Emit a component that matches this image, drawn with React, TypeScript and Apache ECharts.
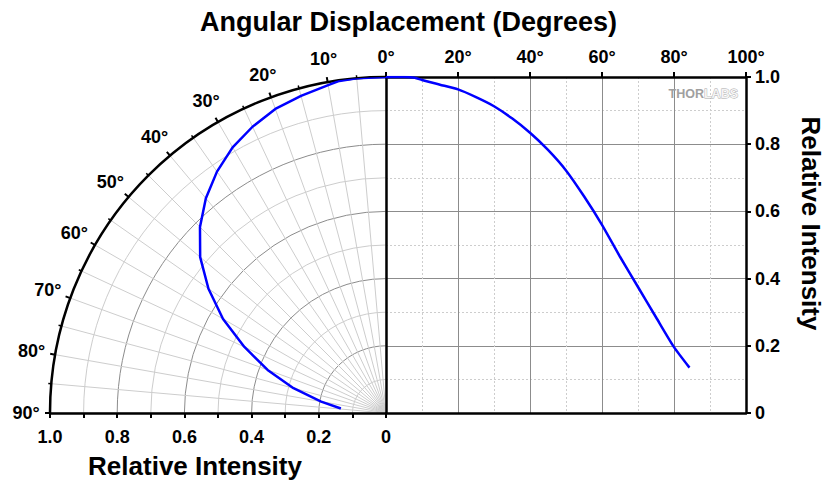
import React, { useEffect, useRef } from "react";
import * as echarts from "echarts";

// Angle (degrees) and relative intensity
const angles = [0, 5, 8, 10, 15, 20, 25, 30, 35, 40, 45, 50, 55, 60, 65, 70, 75, 80, 84.3];
const intensity = [1.0, 1.0, 0.998, 0.991, 0.977, 0.963, 0.94, 0.913, 0.877, 0.834, 0.783, 0.722, 0.645, 0.56, 0.465, 0.375, 0.285, 0.196, 0.135];

// Polar angle tick labels (the 0° one is shared with the top axis)
const angleLabelValues = [10, 20, 30, 40, 50, 60, 70, 80, 90];
const angleLabelRadius = 1.071; // in radius-axis data units

const titleText = "Angular Displacement (Degrees)";
const intensityTitle = "Relative Intensity";
const watermarkA = "THOR";
const watermarkB = "LABS";

const FONT = "'Liberation Sans', Arial, sans-serif";
const MAJOR = "#8c8c8c";
const MINOR = "#cdcdcd";
const BLUE = "#0000ff";

const intensityLabel = (v: number) => (v === 0 ? "0" : v.toFixed(1));

export default function App() {
  const ref = useRef<HTMLDivElement>(null);

  useEffect(() => {
    if (!ref.current) return;
    const chart = echarts.init(ref.current, null, { renderer: "svg" });
    const cartData = angles.map((a, i) => [a, intensity[i]]);
    const polarData = angles.map((a, i) => [intensity[i], a]);
    const labelStyle = { color: "#000", fontSize: 18, fontWeight: "bold" as const, fontFamily: FONT };

    const baseGraphic: any[] = [
      {
        type: "text",
        x: 408.5,
        y: 22,
        style: {
          text: titleText,
          fill: "#000",
          font: `bold 27px ${FONT}`,
          align: "center",
          verticalAlign: "middle",
        },
      },
      {
        type: "text",
        x: 811,
        y: 223.5,
        rotation: -Math.PI / 2,
        style: {
          text: intensityTitle,
          fill: "#000",
          font: `bold 26px ${FONT}`,
          align: "center",
          verticalAlign: "middle",
        },
      },
      {
        type: "text",
        x: 195,
        y: 466,
        style: {
          text: intensityTitle,
          fill: "#000",
          font: `bold 26px ${FONT}`,
          align: "center",
          verticalAlign: "middle",
        },
      },
      {
        type: "text",
        x: 738,
        y: 94,
        z: 10,
        style: {
          text: `{a|${watermarkA}}{b|${watermarkB}}`,
          align: "right",
          verticalAlign: "middle",
          rich: {
            a: { fill: "#a0a0a0", font: `bold 12.5px ${FONT}` },
            b: { fill: "#f4f4f4", stroke: "#a8a8a8", lineWidth: 0.8, font: `bold 12.5px ${FONT}` },
          },
        },
      },
    ];

    chart.setOption({
      animation: false,
      backgroundColor: "#fff",
      textStyle: { fontFamily: FONT },
      grid: [
        { left: 386, top: 77, width: 360, height: 336, containLabel: false },
        { left: 50, top: 77, width: 336, height: 336, containLabel: false },
      ],
      xAxis: [
        {
          gridIndex: 0,
          type: "value",
          position: "top",
          min: 0,
          max: 100,
          interval: 20,
          axisLine: { show: true, onZero: false, lineStyle: { color: "#000", width: 2.5 } },
          axisTick: { show: true, inside: false, length: 5, lineStyle: { color: "#000", width: 2 } },
          axisLabel: {
            ...labelStyle,
            margin: 11,
            formatter: (v: number) => v + "°",
          },
          splitLine: { show: true, lineStyle: { color: MAJOR, width: 1 } },
          minorTick: { show: false, splitNumber: 2 },
          minorSplitLine: { show: true, lineStyle: { color: MINOR, width: 1, type: [2, 2] } },
        },
        {
          gridIndex: 0,
          type: "value",
          position: "bottom",
          min: 0,
          max: 100,
          interval: 20,
          axisLine: { show: true, onZero: false, lineStyle: { color: "#000", width: 2.5 } },
          axisTick: { show: false },
          axisLabel: { show: false },
          splitLine: { show: false },
        },
        {
          gridIndex: 1,
          type: "value",
          position: "bottom",
          inverse: true,
          min: 0,
          max: 1,
          interval: 0.2,
          axisLine: { show: true, onZero: false, lineStyle: { color: "#000", width: 2.5 } },
          axisTick: { show: true, inside: false, length: 5, lineStyle: { color: "#000", width: 2 } },
          minorTick: { show: true, splitNumber: 2, length: 5, lineStyle: { color: "#000", width: 2 } },
          axisLabel: { ...labelStyle, margin: 15, formatter: intensityLabel },
          splitLine: { show: false },
        },
      ],
      yAxis: [
        {
          gridIndex: 0,
          type: "value",
          position: "right",
          min: 0,
          max: 1,
          interval: 0.2,
          axisLine: { show: true, onZero: false, lineStyle: { color: "#000", width: 2.5 } },
          axisTick: { show: true, inside: false, length: 5, lineStyle: { color: "#000", width: 2 } },
          axisLabel: { ...labelStyle, margin: 9, formatter: intensityLabel },
          splitLine: { show: true, lineStyle: { color: MAJOR, width: 1 } },
          minorTick: { show: false, splitNumber: 2 },
          minorSplitLine: { show: true, lineStyle: { color: MINOR, width: 1, type: [2, 2] } },
        },
        {
          gridIndex: 0,
          type: "value",
          position: "left",
          min: 0,
          max: 1,
          interval: 0.2,
          axisLine: { show: true, onZero: false, lineStyle: { color: "#000", width: 2.5 } },
          axisTick: { show: false },
          axisLabel: { show: false },
          splitLine: { show: false },
        },
        {
          gridIndex: 1,
          type: "value",
          min: 0,
          max: 1,
          show: false,
        },
      ],
      polar: { center: [386, 413], radius: 336 },
      angleAxis: {
        type: "value",
        min: 0,
        max: 90,
        interval: 10,
        startAngle: 90,
        endAngle: 180,
        clockwise: false,
        axisLine: { show: true, lineStyle: { color: "#000", width: 2.5 } },
        axisTick: { show: true, inside: false, length: 5, lineStyle: { color: "#000", width: 2 } },
        minorTick: { show: true, splitNumber: 2, length: 3, lineStyle: { color: "#000", width: 1.5 } },
        axisLabel: { show: false },
        splitLine: { show: true, lineStyle: { color: MINOR, width: 1 } },
        minorSplitLine: { show: true, lineStyle: { color: MINOR, width: 1 } },
      },
      radiusAxis: {
        type: "value",
        min: 0,
        max: 1,
        interval: 0.1,
        axisLine: { show: false },
        axisTick: { show: false },
        axisLabel: { show: false },
        splitLine: { show: true, lineStyle: { color: [MAJOR, MINOR], width: 1 } },
      },
      series: [
        {
          type: "line",
          coordinateSystem: "polar",
          data: polarData,
          showSymbol: false,
          symbol: "none",
          lineStyle: { color: BLUE, width: 2.5 },
          z: 5,
        },
        {
          type: "line",
          xAxisIndex: 0,
          yAxisIndex: 0,
          data: cartData,
          showSymbol: false,
          symbol: "none",
          smooth: 0.2,
          lineStyle: { color: BLUE, width: 2.5 },
          z: 5,
        },
        {
          type: "scatter",
          xAxisIndex: 2,
          yAxisIndex: 2,
          data: [],
        },
      ],
      graphic: baseGraphic,
    });

    // Place polar angle labels centred on a circle just outside the arc, using the polar scale
    let ok = true;
    const labelGraphics: any[] = angleLabelValues.map((a) => {
      let p: any = null;
      try {
        p = chart.convertToPixel({ polarIndex: 0 } as any, [angleLabelRadius, a]);
      } catch (e) {
        p = null;
      }
      if (!p || !isFinite(p[0]) || !isFinite(p[1])) ok = false;
      return {
        type: "text",
        x: p ? p[0] : 0,
        y: p ? p[1] : 0,
        style: {
          text: a + "°",
          fill: "#000",
          font: `bold 18px ${FONT}`,
          align: "center",
          verticalAlign: "middle",
        },
      };
    });
    if (ok) {
      chart.setOption({ graphic: [...baseGraphic, ...labelGraphics] }, { replaceMerge: ["graphic"] });
    } else {
      chart.setOption({
        angleAxis: {
          axisLabel: {
            show: true,
            color: "#000",
            fontSize: 18,
            fontWeight: "bold",
            fontFamily: FONT,
            margin: 12,
            formatter: (v: number) => (v === 0 ? "" : v + "°"),
          },
        },
      });
    }

    return () => chart.dispose();
  }, []);

  return (
    <div
      ref={ref}
      style={{ position: "absolute", left: 0, top: 0, width: 829, height: 481 }}
    />
  );
}
